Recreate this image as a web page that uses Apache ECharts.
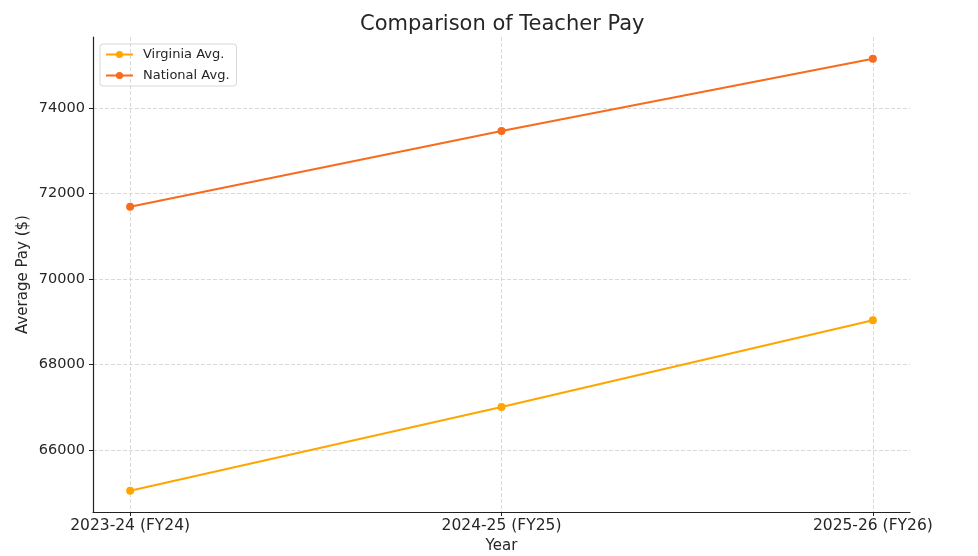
<!DOCTYPE html>
<html><head><meta charset="utf-8">
<script src="https://cdn.jsdelivr.net/npm/echarts@6/dist/echarts.min.js"></script>
<style>html,body{margin:0;padding:0;background:#fff}#c{width:978px;height:556px}</style>
</head><body><div id="c"></div>
<script>
const categories = ['2023-24 (FY24)', '2024-25 (FY25)', '2025-26 (FY26)'];
const virginia = [65040, 67000, 69030];
const national = [71690, 73460, 75150];
const yTicks = [66000, 68000, 70000, 72000, 74000];

const font = 'DejaVu Sans';
const chart = echarts.init(document.getElementById('c'), null, {renderer: 'canvas'});
const toPts = arr => arr.map((v, i) => [i, v]);
chart.setOption({
  animation: false,
  backgroundColor: '#fff',
  title: {
    text: 'Comparison of Teacher Pay', left: 355, top: 9,
    textStyle: {fontFamily: font, fontSize: 21, fontWeight: 'normal', color: '#262626'}
  },
  legend: {
    orient: 'vertical', left: 100, top: 44,
    data: ['Virginia Avg.', 'National Avg.'],
    itemWidth: 27, itemHeight: 9, itemGap: 8,
    padding: [4, 7, 4, 5],
    borderColor: '#d8d8d8', borderWidth: 1, borderRadius: 3,
    textStyle: {fontFamily: font, fontSize: 13, color: '#262626', padding: [0, 0, 0, 5]}
  },
  grid: {left: 93, right: 68, top: 37, bottom: 44, outerBoundsMode: 'none', containLabel: false},
  xAxis: {
    type: 'value', min: -0.1, max: 2.1,
    name: 'Year', nameLocation: 'middle', nameGap: 27, nameMoveOverlap: false,
    nameTextStyle: {fontFamily: font, fontSize: 15, color: '#262626'},
    axisLine: {show: true, onZero: false, lineStyle: {color: '#222', width: 1.2}},
    axisTick: {show: true, customValues: [0, 1, 2], length: 4, lineStyle: {color: '#222'}},
    axisLabel: {customValues: [0, 1, 2], formatter: v => categories[Math.round(v)] || '',
      fontFamily: font, fontSize: 15.5, color: '#262626', margin: 6},
    splitLine: {show: true, lineStyle: {type: [4, 2], color: '#cfcfcf', width: 0.8}}
  },
  yAxis: {
    type: 'value', min: 64545, max: 75660,
    name: 'Average Pay ($)', nameLocation: 'middle', nameGap: 62, nameRotate: 90, nameMoveOverlap: false,
    nameTextStyle: {fontFamily: font, fontSize: 15, color: '#262626'},
    axisLine: {show: true, onZero: false, lineStyle: {color: '#222', width: 1.2}},
    axisTick: {show: true, customValues: yTicks, length: 4, lineStyle: {color: '#222'}},
    axisLabel: {customValues: yTicks, formatter: v => String(v), fontFamily: font, fontSize: 14.5, color: '#262626', margin: 8},
    splitLine: {show: true, lineStyle: {type: [4, 2], color: '#cfcfcf', width: 0.8}}
  },
  series: [
    {name: 'Virginia Avg.', type: 'line', data: toPts(virginia), color: '#FFA500',
      symbol: 'circle', symbolSize: 8, lineStyle: {width: 2}},
    {name: 'National Avg.', type: 'line', data: toPts(national), color: '#F96B1C',
      symbol: 'circle', symbolSize: 8, lineStyle: {width: 2}}
  ]
});
</script></body></html>
